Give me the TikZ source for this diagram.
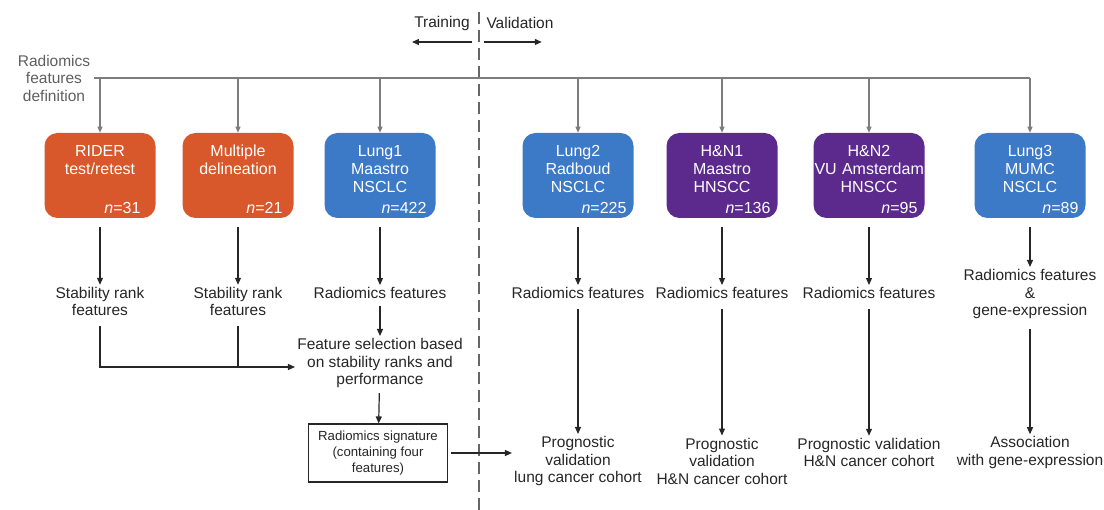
\documentclass[tikz,border=0pt]{standalone}
\usepackage{fontspec}
\setmainfont{Liberation Sans}
\usepackage{tikz}
\usetikzlibrary{arrows.meta, positioning}

\definecolor{riderorange}{RGB}{216,88,44}
\definecolor{lungblue}{RGB}{60,121,198}
\definecolor{hnpurple}{RGB}{92,42,140}
\definecolor{busgray}{RGB}{125,125,125}
\definecolor{defgray}{RGB}{95,95,95}
\newcommand{\topgap}{\rule{0pt}{20pt}}

\begin{document}
\begin{tikzpicture}[x=1pt, y=-1pt, >={Triangle[length=7pt,width=6pt]}, semithick]
\tikzstyle{cohort}=[rounded corners=13pt, minimum width=111pt, minimum height=85pt, text width=109pt, inner xsep=1pt, align=center, text=white, font=\fontsize{16}{18}\selectfont]
\tikzstyle{txt}=[align=center, inner sep=2pt, text=black!85, font=\fontsize{15.5}{17.5}\selectfont]
\tikzstyle{sigbox}=[draw=black!85, line width=1.1pt, minimum width=139pt, minimum height=58pt, align=center, text=black!85, font=\fontsize{13.2}{16}\selectfont]
\tikzstyle{feed}=[->, busgray, line width=1.1pt, >={Triangle[length=6pt,width=5pt]}]
\tikzstyle{flow}=[->, black!85, line width=1.2pt]
\tikzstyle{divider}=[gray!80!black, line width=1.8pt, dash pattern=on 12pt off 6pt]

\useasboundingbox (0,0) rectangle (1104,510);

% training / validation split
\draw[divider] (479,12) -- (479,510);
\node[txt] (train) at (442,23) {Training};
\node[txt] (valid) at (520,23) {Validation};
\draw[flow] ([yshift=-19pt]train.east) -- ([yshift=-19pt]train.west);
\draw[flow] ([yshift=-19pt]valid.west) -- ([yshift=-19pt,xshift=-14pt]valid.east);

% cohorts
\node[txt, text=defgray] (defn) at (54,78) {Radiomics\\features\\definition};
\node[cohort, fill=riderorange] (rider) at (100,175.5) {\topgap RIDER\\test/retest\\\mbox{}\\[3pt]\hfill\textit{n}=31\hspace*{14pt}};
\node[cohort, fill=riderorange] (multi) at (238,175.5) {\topgap Multiple\\delineation\\\mbox{}\\[3pt]\hfill\textit{n}=21\hspace*{10pt}};
\node[cohort, fill=lungblue] (lung1) at (380,175.5) {\topgap Lung1\\Maastro\\NSCLC\\[3pt]\hfill\textit{n}=422\hspace*{8pt}};
\node[cohort, fill=lungblue] (lung2) at (578,175.5) {\topgap Lung2\\Radboud\\NSCLC\\[3pt]\hfill\textit{n}=225\hspace*{6pt}};
\node[cohort, fill=hnpurple] (hn1) at (722,175.5) {\topgap H\&N1\\Maastro\\HNSCC\\[3pt]\hfill\textit{n}=136\hspace*{6pt}};
\node[cohort, fill=hnpurple] (hn2) at (869,175.5) {\topgap H\&N2\\\mbox{VU Amsterdam}\\HNSCC\\[3pt]\hfill\textit{n}=95\hspace*{6pt}};
\node[cohort, fill=lungblue] (lung3) at (1030,175.5) {\topgap Lung3\\MUMC\\NSCLC\\[3pt]\hfill\textit{n}=89\hspace*{6pt}};

\coordinate (busend) at (lung3 |- defn);
\draw[busgray, line width=1.1pt] ([xshift=2pt]defn.east) -- (busend);
\path[feed] (rider |- defn) edge (rider)
            (multi |- defn) edge (multi)
            (lung1 |- defn) edge (lung1)
            (lung2 |- defn) edge (lung2)
            (hn1 |- defn) edge (hn1)
            (hn2 |- defn) edge (hn2)
            (lung3 |- defn) edge (lung3);

% features
\node[txt] (stab1) at (rider |- 0,301.5) {Stability rank\\features};
\node[txt] (stab2) at (multi |- 0,301.5) {Stability rank\\features};
\node[txt] (rf1) at (lung1 |- 0,293) {Radiomics features};
\node[txt] (rf2) at (lung2 |- 0,293) {Radiomics features};
\node[txt] (rf3) at (hn1 |- 0,293) {Radiomics features};
\node[txt] (rf4) at (hn2 |- 0,293) {Radiomics features};
\node[txt] (rfg) at (lung3 |- 0,294) {Radiomics features\\\&\\gene-expression};

\path[flow, shorten <=9pt] (rider) edge (stab1)
            (multi) edge (stab2)
            (lung1) edge (rf1)
            (lung2) edge (rf2)
            (hn1) edge (rf3)
            (hn2) edge (rf4)
            (lung3) edge (rfg);

% training branch
\node[txt] (fsel) at (380,363) {Feature selection based\\on stability ranks and\\performance};
\node[sigbox] (sig) at (378,453) {Radiomics signature\\(containing four\\features)};
\coordinate (join) at ([yshift=-4pt]fsel.west);
\draw[flow, shorten <=8pt] (stab1) |- (join);
\draw[black!85, line width=1.2pt, shorten <=8pt] (stab2) -- (stab2 |- join);
\draw[flow, shorten <=5pt] (rf1) -- (fsel);
\draw[flow, shorten <=3pt] (fsel) -- (sig);

% validation
\node[txt] (prog1) at (lung2 |- 0,461) {Prognostic\\validation\\lung cancer cohort};
\node[txt] (prog2) at (hn1 |- 0,461) {Prognostic\\validation\\H\&N cancer cohort};
\node[txt] (prog3) at (hn2 |- 0,452.5) {Prognostic validation\\H\&N cancer cohort};
\node[txt] (assoc) at (lung3 |- 0,452.5) {Association\\with gene-expression};

\path[flow, shorten <=8pt] (rf2) edge (rf2 |- prog1.north)
            (rf3) edge (rf3 |- prog2.north)
            (rf4) edge (rf4 |- prog3.north)
            (rfg) edge (rfg |- assoc.north);
\draw[flow, shorten <=3pt] (sig) -- (sig -| prog1.west);
\end{tikzpicture}
\end{document}
